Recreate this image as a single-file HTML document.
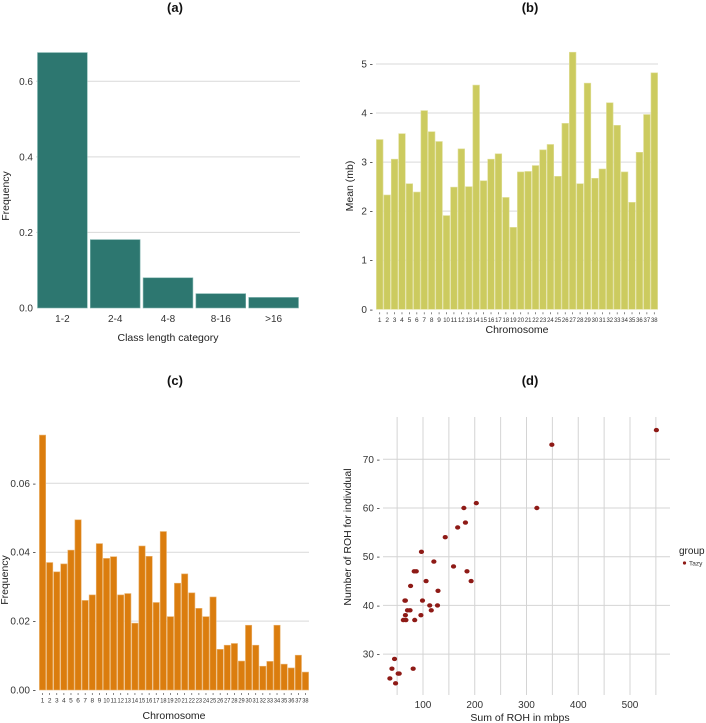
<!DOCTYPE html>
<html><head><meta charset="utf-8"><style>
html,body{margin:0;padding:0;background:#fff;}
svg{display:block;font-family:"Liberation Sans",sans-serif;}
.tick{font-size:10px;fill:#333;}
.small{font-size:6.5px;fill:#333;font-family:"Liberation Sans Narrow","Liberation Sans",sans-serif;}
.title{font-size:10.5px;fill:#222;}
.ptitle{font-size:13px;font-weight:bold;fill:#111;}
</style></head><body>
<svg id="fig" width="706" height="723" viewBox="0 0 706 723" xmlns="http://www.w3.org/2000/svg">
<g id="ga"></g>
<g id="gb"></g>
<g id="gc"></g>
<g id="gd"></g>
</svg>
<script>
// Panel (a)
const aCategories = ["1-2","2-4","4-8","8-16",">16"];
const aValues = [0.676,0.181,0.080,0.038,0.028];
const aTicks = [0,0.2,0.4,0.6];
const aTickLabels = ["0.0","0.2","0.4","0.6"];
// Panel (b)
const bCategories = ["1","2","3","4","5","6","7","8","9","10","11","12","13","14","15","16","17","18","19","20","21","22","23","24","25","26","27","28","29","30","31","32","33","34","35","36","37","38"];
const bValues = [3.46,2.33,3.06,3.58,2.56,2.39,4.05,3.62,3.42,1.91,2.49,3.27,2.50,4.57,2.62,3.06,3.17,2.28,1.67,2.80,2.81,2.93,3.25,3.36,2.71,3.79,5.24,2.56,4.61,2.67,2.86,4.21,3.75,2.80,2.18,3.20,3.97,4.82];
const bTicks = [0,1,2,3,4,5];
// Panel (c)
const cCategories = bCategories.slice();
const cValues = [0.0740,0.0370,0.0343,0.0366,0.0406,0.0494,0.0260,0.0276,0.0425,0.0382,0.0387,0.0276,0.0280,0.0194,0.0418,0.0388,0.0254,0.0460,0.0213,0.0310,0.0337,0.0282,0.0237,0.0213,0.0270,0.0118,0.0130,0.0135,0.0084,0.0188,0.0130,0.0069,0.0083,0.0188,0.0075,0.0064,0.0101,0.0052];
const cTicks = [0,0.02,0.04,0.06];
const cTickLabels = ["0.00","0.02","0.04","0.06"];
// Panel (d)
const dX = [551,349,203,179,320,167,182,143,97,121,159,185,83,87,193,106,76,65,66,99,129,113,128,70,75,116,66,96,62,67,84,45,40,81,52,54,36,47];
const dY = [76,73,61,60,60,56,57,54,51,49,48,47,47,47,45,45,44,41,41,41,43,40,40,39,39,39,38,38,37,37,37,29,27,27,26,26,25,24];
const dXTicks = [100,200,300,400,500];
const dXMinor = [50,150,250,350,450,550];
const dYTicks = [30,40,50,60,70];

const NS="http://www.w3.org/2000/svg";
function mk(parent,tag,attrs,text){const e=document.createElementNS(NS,tag);for(const k in attrs)e.setAttribute(k,attrs[k]);if(text!==undefined)e.textContent=text;parent.appendChild(e);return e;}

function drawBarPanel(g,opt){
  const y=v=>opt.y0-(v-opt.vmin)/(opt.vmax-opt.vmin)*(opt.y0-opt.y1);
  const bw=(opt.x1-opt.x0)/opt.cats.length;
  opt.ticks.forEach((t,i)=>{
    if(t>0){const l=mk(g,'line',{x1:opt.x0,x2:opt.x1,y1:y(t),y2:y(t),stroke:'#d9d9d9','stroke-width':1});
      
      }
    const tx=mk(g,'text',{x:opt.x0-3,y:y(t)+3.5,'text-anchor':'end',class:'tick'},(opt.tickLabels?opt.tickLabels[i]:String(t))+(opt.smallLabels?' -':''));
    
    
  });
  opt.cats.forEach((c,i)=>{
    const r=mk(g,'rect',{x:opt.x0+i*bw+opt.gap/2,y:y(opt.vals[i]),width:bw-opt.gap,height:y(0)-y(opt.vals[i]),fill:opt.color,stroke:opt.stroke,'stroke-width':0.6});
    
    
    const cx=opt.x0+(i+0.5)*bw;
    if(opt.smallLabels){
      mk(g,'line',{x1:cx,x2:cx,y1:opt.y0+3,y2:opt.y0+5,stroke:'#555','stroke-width':0.7});
    }
    const attrs={x:cx,y:opt.y0+(opt.smallLabels?12.5:14),'text-anchor':'middle',class:opt.smallLabels?'small':'tick'};
    if(opt.smallLabels && c.length>1){attrs.textLength=bw-0.8;attrs.lengthAdjust='spacingAndGlyphs';}
    const t=mk(g,'text',attrs,c);
    
    
  });
  const xt=mk(g,'text',{x:(opt.x0+opt.x1)/2,y:opt.xtY,'text-anchor':'middle',class:'title'},opt.xTitle);
  
  
  const yt=mk(g,'text',{x:0,y:0,'text-anchor':'middle',class:'title',transform:`translate(${opt.ytX},${opt.ytY}) rotate(-90)`},opt.yTitle);
  
  
  const pt=mk(g,'text',{x:opt.ptX,y:opt.ptY,'text-anchor':'middle',class:'ptitle'},opt.pTitle);
  
  
}

drawBarPanel(document.getElementById('ga'),{cats:aCategories,vals:aValues,ticks:aTicks,tickLabels:aTickLabels,vmin:0,vmax:0.6,x0:36,x1:300,y0:308,y1:81.3,gap:3,color:'#2d7770',stroke:'#7fb3ae',smallLabels:false,xTitle:'Class length category',xtY:341,yTitle:'Frequency',ytX:9,ytY:196,pTitle:'(a)',ptX:175,ptY:12});
drawBarPanel(document.getElementById('gb'),{cats:bCategories,vals:bValues,ticks:bTicks,vmin:0,vmax:5,x0:376,x1:658,y0:309.3,y1:64,gap:0.8,color:'#cccb5f',stroke:'#e0df9a',smallLabels:true,xTitle:'Chromosome',xtY:333,yTitle:'Mean (mb)',ytX:353,ytY:186,pTitle:'(b)',ptX:530,ptY:12});
drawBarPanel(document.getElementById('gc'),{cats:cCategories,vals:cValues,ticks:cTicks,tickLabels:cTickLabels,vmin:0,vmax:0.06,x0:39,x1:309,y0:690,y1:483.3,gap:0.8,color:'#db7d0e',stroke:'#eab36f',smallLabels:true,xTitle:'Chromosome',xtY:719,yTitle:'Frequency',ytX:8,ytY:580,pTitle:'(c)',ptX:175,ptY:385});

// Panel (d) scatter
(function(){
  const g=document.getElementById('gd');
  const X0=383,X1=670,Y0=417,Y1=695;
  const sx=v=>371.25+v*0.5175;
  const sy=v=>459.3-(v-70)*4.87;
  dXMinor.concat(dXTicks).forEach(t=>{
    const l=mk(g,'line',{x1:sx(t),x2:sx(t),y1:Y0,y2:Y1,stroke:'#d4d4d4','stroke-width':1});
    
    
  });
  dYTicks.forEach(t=>{
    const l=mk(g,'line',{x1:X0,x2:X1,y1:sy(t),y2:sy(t),stroke:'#d4d4d4','stroke-width':1});
    
    
    const tx=mk(g,'text',{x:X0-3,y:sy(t)+3.5,'text-anchor':'end',class:'tick'},t+' -');
    
    
  });
  dXTicks.forEach(t=>{
    const tx=mk(g,'text',{x:sx(t),y:Y1+13,'text-anchor':'middle',class:'tick'},String(t));
    
    
  });
  dX.forEach((v,i)=>{
    const c=mk(g,'ellipse',{cx:sx(v),cy:sy(dY[i]),rx:2.6,ry:2.2,fill:'#8e1a16'});
    
    
  });
  const xt=mk(g,'text',{x:520,y:721,'text-anchor':'middle',class:'title'},'Sum of ROH in mbps');
  
  
  const yt=mk(g,'text',{x:0,y:0,'text-anchor':'middle',class:'title',transform:'translate(351,537) rotate(-90)'},'Number of ROH for individual');
  
  
  const pt=mk(g,'text',{x:530,y:385,'text-anchor':'middle',class:'ptitle'},'(d)');
  
  
  const lt=mk(g,'text',{x:679,y:554,style:'font-size:10px;fill:#222'},'group');
  
  
  const ld=mk(g,'circle',{cx:684.5,cy:563,r:1.6,fill:'#8e1a16'});
  
  
  const ll=mk(g,'text',{x:689,y:565.5,style:'font-size:6.5px;fill:#333'},'Tazy');
  
  
})();
</script>
</body></html>
